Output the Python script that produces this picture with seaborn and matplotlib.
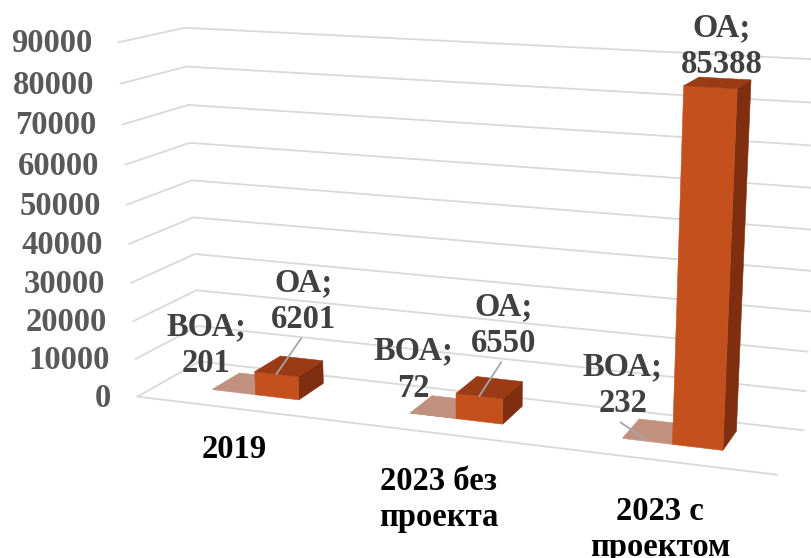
import numpy as np
import pandas as pd
import matplotlib
matplotlib.use("Agg")
import matplotlib.pyplot as plt
from matplotlib.patches import Polygon
import seaborn as sns

# ---------------- data ----------------
categories = ["2019", "2023 без\nпроекта", "2023 с\nпроектом"]
series_names = ["ВОА", "ОА"]
voa_values = [201, 72, 232]
oa_values = [6201, 6550, 85388]
tick_values = [0, 10000, 20000, 30000, 40000, 50000, 60000, 70000, 80000, 90000]

# ---------------- style ----------------
sns.set_theme(style="white")
plt.rcParams["font.family"] = ["Liberation Serif", "DejaVu Serif"]
plt.rcParams["font.weight"] = "bold"
FS = 23.5
VMAX = 90000

# perspective camera calibrated on the plot box (world: X categories 0..3,
# Y depth 0 front..1 back, Z value/VMAX) -> pixel positions of the box corners
box_world = [(0, 0, 0), (0, 0, 1), (0, 1, 1), (0, 1, 0), (3, 0, 0), (3, 1, 0), (3, 1, 1)]
box_px = [(137, 393), (118, 44), (185, 26), (200, 365), (778, 477), (803, 428), (823, 60)]


def fit_camera(world, px):
    px = np.asarray(px, float)
    c = np.array([405.0, 280.0])
    s = 400.0
    q = (px - c) / s
    rows = []
    for (X, Y, Z), (u, v) in zip(world, q):
        rows.append([X, Y, Z, 1, 0, 0, 0, 0, -u * X, -u * Y, -u * Z, -u])
        rows.append([0, 0, 0, 0, X, Y, Z, 1, -v * X, -v * Y, -v * Z, -v])
    _, _, vt = np.linalg.svd(np.array(rows, float))
    P = vt[-1].reshape(3, 4)

    def proj(X, Y, Z):
        h = P @ np.array([X, Y, Z / VMAX, 1.0])
        return c + s * h[:2] / h[2]
    return proj


proj = fit_camera(box_world, box_px)

fig = plt.figure(figsize=(8.11, 5.58), dpi=100)
ax = fig.add_axes([0, 0, 1, 1])

# ---------------- gridlines (side wall + back wall + floor edge) ----------------
rows = []
for k, v in enumerate(tick_values):
    for (X, Y) in [(0, 0), (0, 1), (3, 1)]:
        u, w = proj(X, Y, v)
        rows.append(dict(line=k, u=u, v=w))
for X in (0, 3):
    u, w = proj(X, 0, 0)
    rows.append(dict(line=-1, u=u, v=w))
grid_df = pd.DataFrame(rows)
sns.lineplot(data=grid_df, x="u", y="v", units="line", estimator=None, sort=False,
             color="#D9D9D9", lw=1.3, ax=ax, legend=False, zorder=1)

# ---------------- 3D bars ----------------
gap = 2.5
bw = 1.0 / (2 + gap)
y0, y1 = 0.36, 0.81
face_colors = [
    dict(front="#C8957F", top="#C1907E", right="#A97868", left="#B88572"),
    dict(front="#C4501E", top="#9A3B16", right="#7F2F10", left="#A84418"),
]


def signed_area(pts):
    a = 0.0
    for p, q in zip(pts, np.roll(pts, -1, axis=0)):
        a += p[0] * (-q[1]) - q[0] * (-p[1])
    return 0.5 * a


anchors = {}
z = 3
for i in range(len(categories)):
    for s, vals in enumerate([voa_values, oa_values]):
        h = vals[i]
        x0 = i + 0.5 - bw + s * bw
        x1 = x0 + bw
        c = proj
        faces = {
            "front": [c(x0, y0, 0), c(x1, y0, 0), c(x1, y0, h), c(x0, y0, h)],
            "left": [c(x0, y1, 0), c(x0, y0, 0), c(x0, y0, h), c(x0, y1, h)],
            "right": [c(x1, y0, 0), c(x1, y1, 0), c(x1, y1, h), c(x1, y0, h)],
            "top": [c(x0, y0, h), c(x1, y0, h), c(x1, y1, h), c(x0, y1, h)],
        }
        for name in ["left", "right", "front", "top"]:
            pts = np.array(faces[name])
            if signed_area(pts) > 0:
                col = face_colors[s][name]
                ax.add_patch(Polygon(pts, closed=True, fc=col, ec=col, lw=0.4, zorder=z))
                z += 1
        anchors[(i, s)] = proj((x0 + x1) / 2, y0, h)

# ---------------- data labels ----------------
label_offsets = {(0, 0): (-28, -30), (0, 1): (27, -57),
                 (1, 0): (-20, -30), (1, 1): (24, -55),
                 (2, 0): (-25, -39), (2, 1): (11, -25)}
leaders = {(0, 1), (1, 1), (2, 0)}
for i in range(len(categories)):
    for s, vals in enumerate([voa_values, oa_values]):
        ax_, ay_ = anchors[(i, s)]
        dx, dy = label_offsets[(i, s)]
        lx, ly = ax_ + dx, ay_ + dy
        ax.text(lx, ly + 11, f"{vals[i]}", ha="center", va="baseline", fontsize=FS,
                color="#404040", fontweight="bold", zorder=50)
        ax.text(lx, ly + 11 - 37, f"{series_names[s]};", ha="center", va="baseline",
                fontsize=FS, color="#404040", fontweight="bold", zorder=50)
        if (i, s) in leaders:
            ax.plot([lx - 2, ax_], [ly + 21, ay_], color="#A6A6A6", lw=1.3, zorder=40)

# ---------------- value axis labels ----------------
for v in tick_values:
    u, w = proj(0, 0, v)
    ax.text(u - 26, w + 10, f"{v}", ha="right", va="baseline", fontsize=FS,
            color="#595959", fontweight="bold")

# ---------------- category labels ----------------
cat_drop = [50, 57, 60]
for i, cat in enumerate(categories):
    u, w = proj(i + 0.5, 0, 0)
    for j, line in enumerate(cat.split("\n")):
        ax.text(u, w + cat_drop[i] + 36 * j, line, ha="center", va="baseline", fontsize=FS,
                color="black", fontweight="bold")

ax.set_xlim(0, 811)
ax.set_ylim(558, 0)
ax.set_axis_off()
fig.savefig("out.png", dpi=100)
